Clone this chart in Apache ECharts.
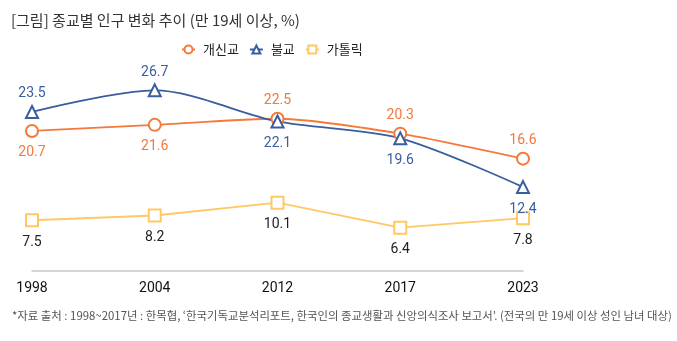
<!DOCTYPE html>
<html><head><meta charset="utf-8">
<script src="https://cdn.jsdelivr.net/npm/echarts@6/dist/echarts.min.js"></script>
<style>html,body{margin:0;padding:0;background:#fff}#c{width:677px;height:341px}</style>
</head><body><div id="c"></div>
<script>
const years = ['1998','2004','2012','2017','2023'];
const protestant = [20.7, 21.6, 22.5, 20.3, 16.6];
const buddhist = [23.5, 26.7, 22.1, 19.6, 12.4];
const catholic = [7.5, 8.2, 10.1, 6.4, 7.8];
const seriesNames = ['개신교','불교','가톨릭'];
const protestantLabelPos = ['bottom','bottom','top','top','top'];
const buddhistLabelPos = ['top','top','bottom','bottom','bottom'];
const catholicLabelPos = ['bottom','bottom','bottom','bottom','bottom'];

const FONT = "Roboto, 'Noto Sans CJK KR', sans-serif";
function mk(vals, pos){ return vals.map((v,i)=>({value:v,label:{position:pos[i],distance:pos[i]==='top'?4:8}})); }

const chart = echarts.init(document.getElementById('c'));
chart.setOption({
  animation:false,
  textStyle:{fontFamily:FONT},
  title:{text:'[그림] 종교별 인구 변화 추이 (만 19세 이상, %)',left:6,top:8,
    textStyle:{fontSize:15,fontWeight:'normal',color:'#333',fontFamily:"'Noto Sans CJK KR', sans-serif"}},
  graphic:[{type:'text',left:12,top:310,style:{text:'*자료 출처 : 1998~2017년 : 한목협, ‘한국기독교분석리포트, 한국인의 종교생활과 신앙의식조사 보고서’. (전국의 만 19세 이상 성인 남녀 대상)',
    fill:'#555',font:"11.4px 'Noto Sans CJK KR', sans-serif"}}],
  legend:{top:38,left:176,itemWidth:13,itemHeight:10,itemGap:10,
    textStyle:{fontSize:13,color:'#222',padding:[0,0,0,3],fontFamily:"'Noto Sans CJK KR', sans-serif"},
    data:seriesNames},
  grid:{left:32,right:154,top:68,bottom:70},
  xAxis:{type:'category',data:years,boundaryGap:false,
    axisLine:{lineStyle:{color:'#c8c8c8',width:1.5}},axisTick:{show:false},
    axisLabel:{color:'#111',fontSize:14,margin:11,fontFamily:FONT}},
  yAxis:{type:'value',min:0,max:30,show:false,splitLine:{show:false}},
  series:[
    {name:seriesNames[0],type:'line',smooth:0.25,data:mk(protestant,protestantLabelPos),
      symbol:'emptyCircle',symbolSize:12,color:'#F5793A',
      lineStyle:{width:1.8,color:'#F5793A'},itemStyle:{color:'#F5793A',borderWidth:1.8},
      label:{show:true,color:'#F5793A',fontSize:14,fontFamily:FONT}},
    {name:seriesNames[1],type:'line',smooth:0.3,data:mk(buddhist,buddhistLabelPos),
      symbol:'emptyTriangle',symbolSize:12,color:'#3A5D9F',
      lineStyle:{width:1.8,color:'#3A5D9F'},itemStyle:{color:'#3A5D9F',borderWidth:1.8},
      label:{show:true,color:'#3A5D9F',fontSize:14,fontFamily:FONT}},
    {name:seriesNames[2],type:'line',data:mk(catholic,catholicLabelPos),
      symbol:'emptyRect',symbolSize:12,color:'#FFC864',
      lineStyle:{width:1.8,color:'#FFC864'},itemStyle:{color:'#FFC864',borderWidth:1.8},
      label:{show:true,color:'#222',fontSize:14,fontFamily:FONT}}
  ]
});
</script></body></html>
